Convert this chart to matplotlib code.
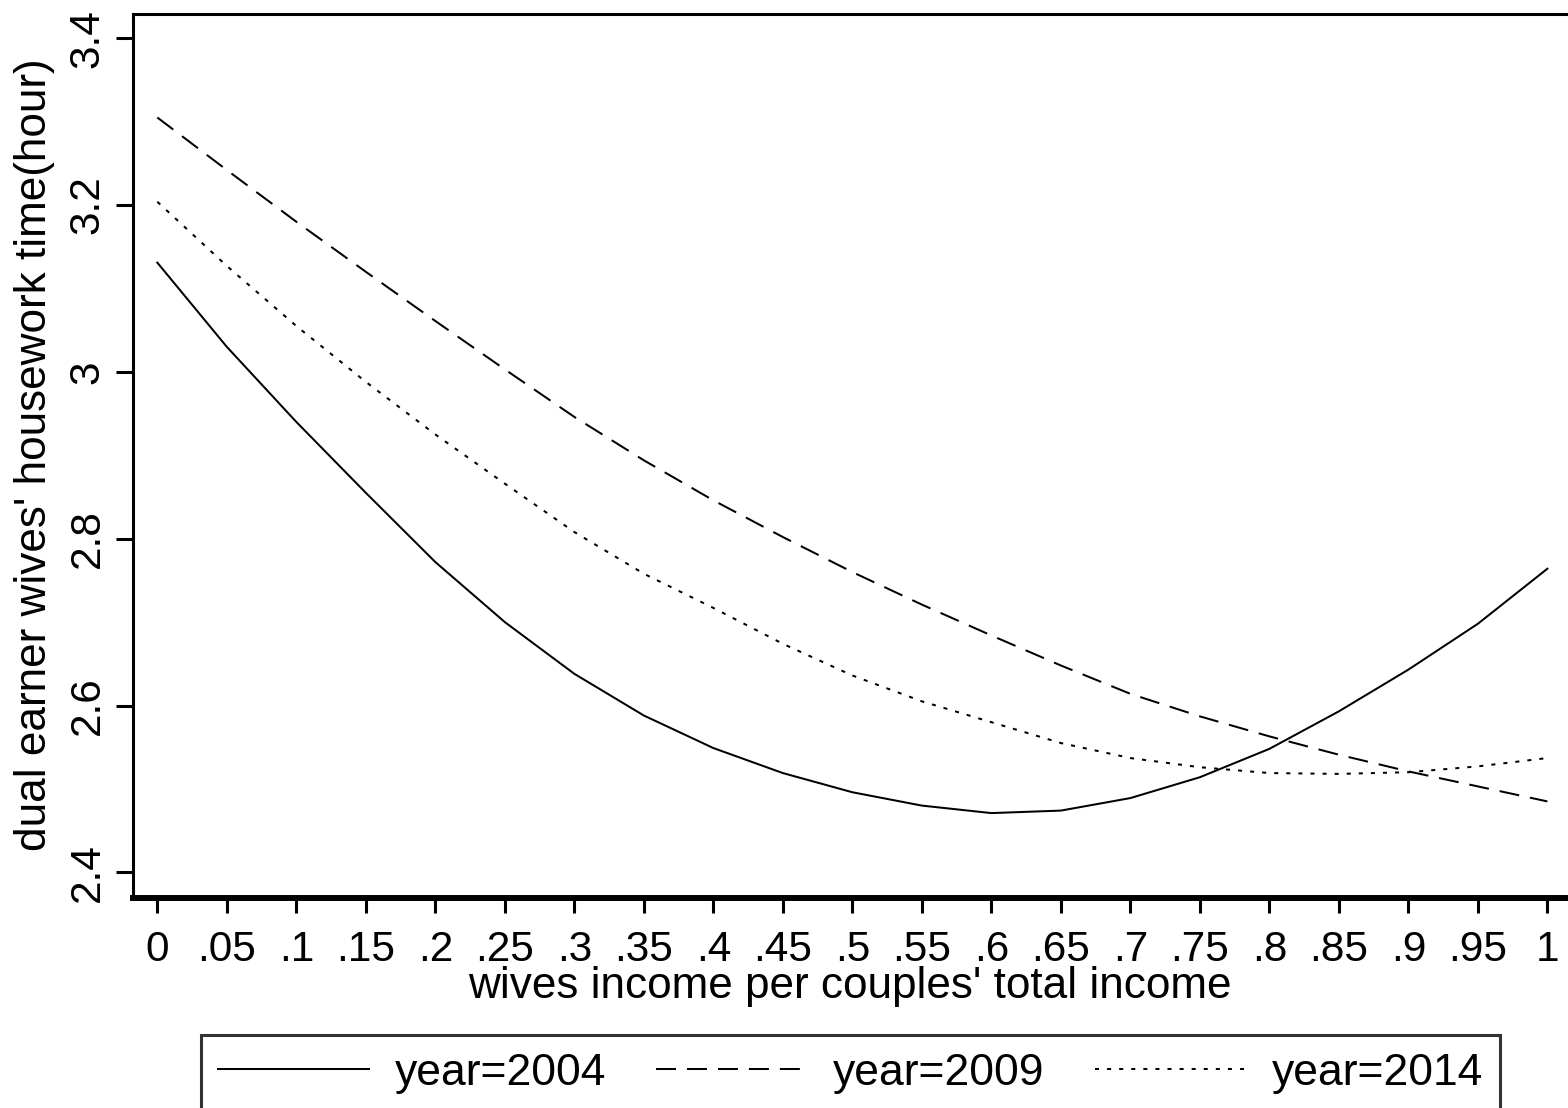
import matplotlib
matplotlib.use("Agg")
import matplotlib.pyplot as plt
from matplotlib.lines import Line2D

plt.rcParams['font.family'] = ['Liberation Sans', 'DejaVu Sans']
plt.rcParams['lines.scale_dashes'] = False

# wives' share of couple income
share = [0.0, 0.05, 0.10, 0.15, 0.20, 0.25, 0.30, 0.35, 0.40, 0.45, 0.50,
         0.55, 0.60, 0.65, 0.70, 0.75, 0.80, 0.85, 0.90, 0.95, 1.0]

# predicted housework hours of dual-earner wives by survey year
hours_2004 = [3.131, 3.030, 2.940, 2.855, 2.772, 2.700, 2.638, 2.588, 2.549, 2.519, 2.496,
              2.480, 2.471, 2.474, 2.489, 2.514, 2.548, 2.593, 2.643, 2.698, 2.764]
hours_2009 = [3.305, 3.242, 3.180, 3.120, 3.061, 3.003, 2.946, 2.894, 2.846, 2.802, 2.760,
              2.721, 2.684, 2.648, 2.614, 2.587, 2.563, 2.541, 2.521, 2.503, 2.485]
hours_2014 = [3.204, 3.127, 3.055, 2.988, 2.925, 2.866, 2.808, 2.758, 2.717, 2.674, 2.636,
              2.605, 2.580, 2.555, 2.537, 2.526, 2.519, 2.518, 2.520, 2.527, 2.537]

series_labels = ['year=2004', 'year=2009', 'year=2014']

x_ticks = share
x_ticklabels = ['0', '.05', '.1', '.15', '.2', '.25', '.3', '.35', '.4', '.45', '.5',
                '.55', '.6', '.65', '.7', '.75', '.8', '.85', '.9', '.95', '1']
y_ticks = [2.4, 2.6, 2.8, 3.0, 3.2, 3.4]
y_ticklabels = ['2.4', '2.6', '2.8', '3', '3.2', '3.4']

W, H = 1568, 1108
fig = plt.figure(figsize=(W / 100, H / 100), dpi=100)
fig.patch.set_facecolor('white')

left, right, top, bottom = 133, 1571, 13.5, 898
ax = fig.add_axes([left / W, 1 - bottom / H, (right - left) / W, (bottom - top) / H])

styles = [
    dict(linestyle='-'),
    dict(linestyle=(0, (14.4, 7.9))),
    dict(linestyle=(0, (2.9, 5.8))),
]
lw = 1.45
for ys, st, lab in zip([hours_2004, hours_2009, hours_2014], styles, series_labels):
    ax.plot(share, ys, color='black', linewidth=lw, label=lab, **st)

ax.set_xlim(-0.0175, 1.017)
ax.set_ylim(2.3692, 3.4297)

ax.set_xticks(x_ticks)
ax.set_xticklabels(x_ticklabels)
ax.set_yticks(y_ticks)
ax.set_yticklabels(y_ticklabels, rotation=90, va='center')

fs = 30.5
ax.tick_params(axis='x', direction='out', length=10.8, width=2.2, pad=12, labelsize=fs)
ax.tick_params(axis='y', direction='out', length=12.2, width=2.2, pad=6, labelsize=fs)

ax.spines['left'].set_linewidth(2.2)
ax.spines['top'].set_linewidth(2.2)
ax.spines['bottom'].set_linewidth(4.3)
ax.spines['right'].set_linewidth(2.2)

label_fs = 31.8
fig.text(850 / W, 1 - 998 / H, "wives income per couples' total income",
         ha='center', va='baseline', fontsize=label_fs)
fig.text(35 / W, 1 - 455 / H, "dual earner wives' housework time(hour)",
         ha='center', va='center', rotation=90, fontsize=label_fs)

handles = [Line2D([], [], color='black', linewidth=lw, **st) for st in styles]
leg = fig.legend(handles, series_labels, loc='upper center',
                 bbox_to_anchor=(850.5 / W, 1 - 1035 / H), ncol=3,
                 frameon=True, fancybox=False, edgecolor='black',
                 fontsize=32, handlelength=3.4, handletextpad=0.58,
                 columnspacing=1.12, borderpad=0.4, borderaxespad=0)
leg.get_frame().set_linewidth(2.2)

fig.savefig('out.png', dpi=100, facecolor='white')
